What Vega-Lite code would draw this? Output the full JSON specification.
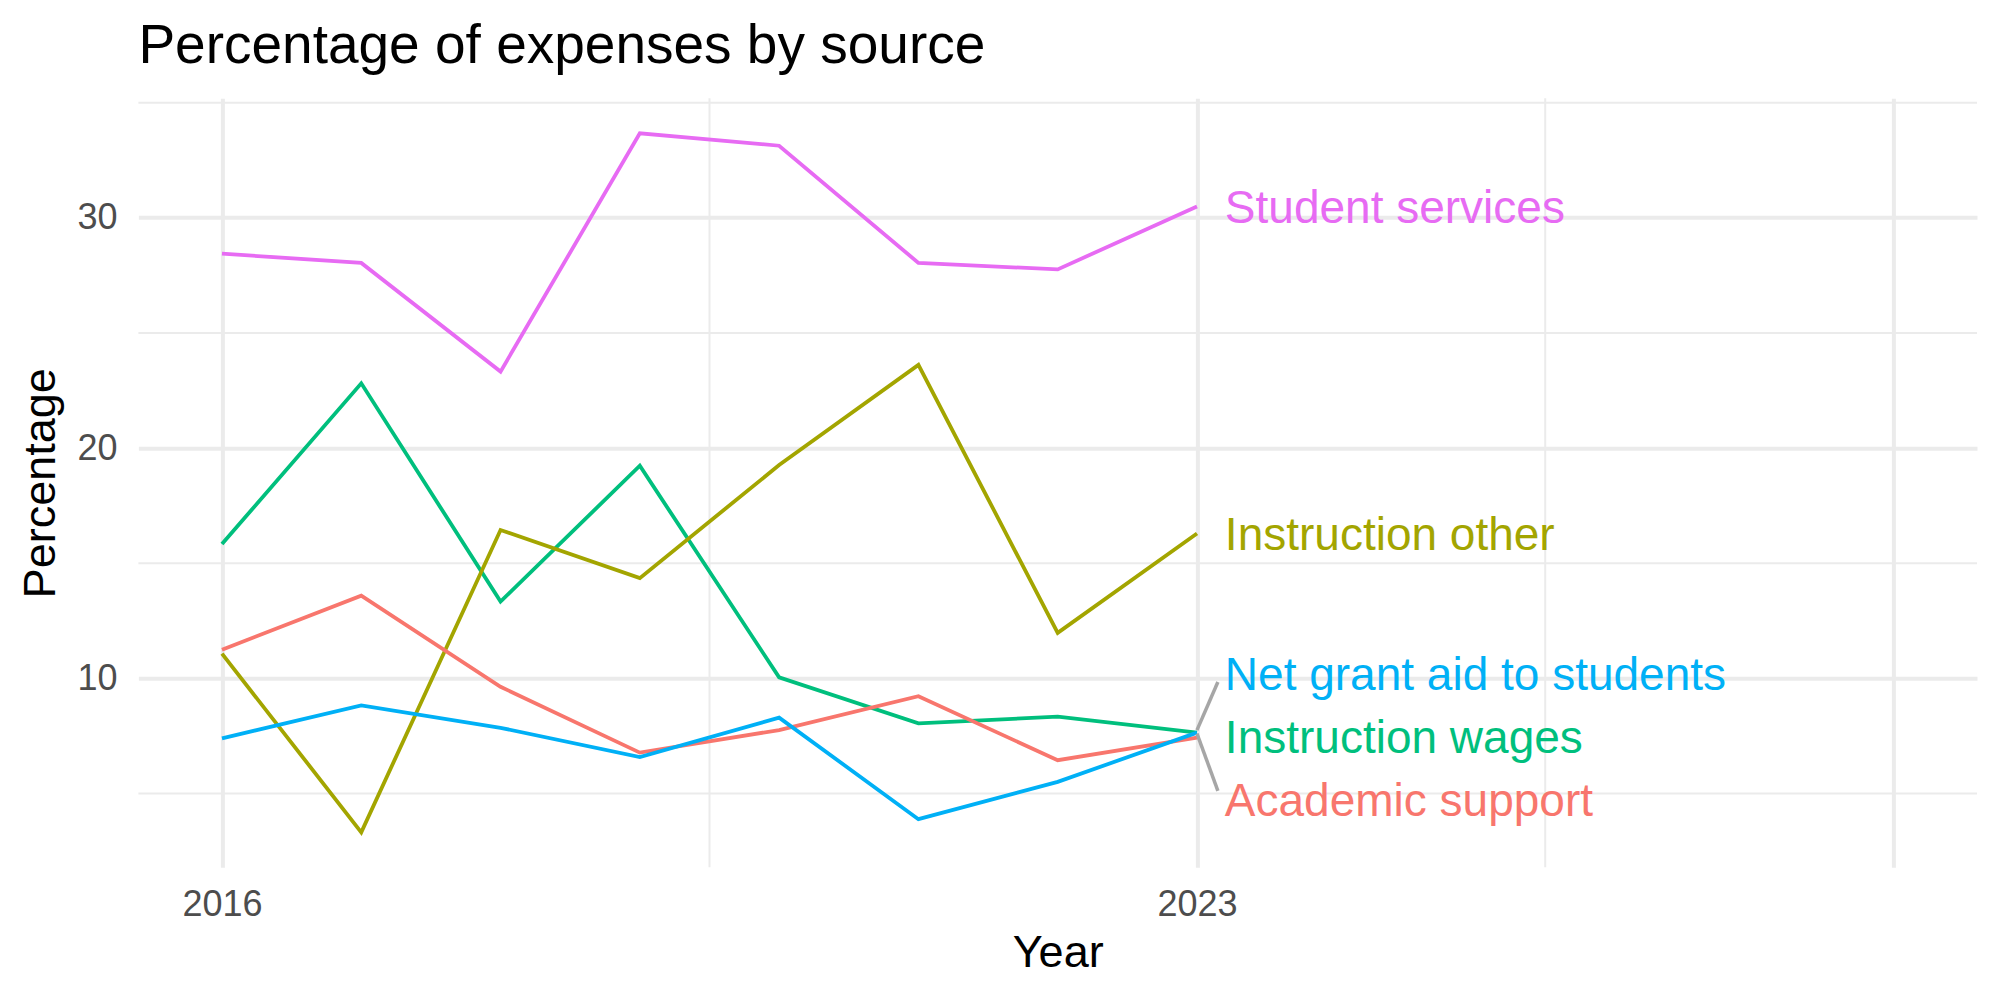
{
  "$schema": "https://vega.github.io/schema/vega-lite/v6.json",
  "autosize": {"type": "none"},
  "padding": {"left": 138.4, "top": 98.3, "right": 23, "bottom": 132.7},
  "width": 1838.6,
  "height": 769,
  "background": "white",
  "title": {
    "text": "Percentage of expenses by source",
    "anchor": "start",
    "frame": "group",
    "fontSize": 55,
    "fontWeight": "normal",
    "font": "Liberation Sans",
    "color": "black",
    "baseline": "alphabetic",
    "offset": -21
  },
  "datasets": {
    "series": [
      {"year": 2016, "source": "Student services", "pct": 28.44},
      {"year": 2017, "source": "Student services", "pct": 28.04},
      {"year": 2018, "source": "Student services", "pct": 23.32},
      {"year": 2019, "source": "Student services", "pct": 33.67},
      {"year": 2020, "source": "Student services", "pct": 33.13},
      {"year": 2021, "source": "Student services", "pct": 28.04},
      {"year": 2022, "source": "Student services", "pct": 27.76},
      {"year": 2023, "source": "Student services", "pct": 30.49},
      {"year": 2016, "source": "Instruction wages", "pct": 15.83},
      {"year": 2017, "source": "Instruction wages", "pct": 22.81},
      {"year": 2018, "source": "Instruction wages", "pct": 13.33},
      {"year": 2019, "source": "Instruction wages", "pct": 19.23},
      {"year": 2020, "source": "Instruction wages", "pct": 10.04},
      {"year": 2021, "source": "Instruction wages", "pct": 8.04},
      {"year": 2022, "source": "Instruction wages", "pct": 8.33},
      {"year": 2023, "source": "Instruction wages", "pct": 7.64},
      {"year": 2016, "source": "Instruction other", "pct": 11.07},
      {"year": 2017, "source": "Instruction other", "pct": 3.31},
      {"year": 2018, "source": "Instruction other", "pct": 16.44},
      {"year": 2019, "source": "Instruction other", "pct": 14.35},
      {"year": 2020, "source": "Instruction other", "pct": 19.26},
      {"year": 2021, "source": "Instruction other", "pct": 23.61},
      {"year": 2022, "source": "Instruction other", "pct": 11.97},
      {"year": 2023, "source": "Instruction other", "pct": 16.29},
      {"year": 2016, "source": "Academic support", "pct": 11.24},
      {"year": 2017, "source": "Academic support", "pct": 13.59},
      {"year": 2018, "source": "Academic support", "pct": 9.63},
      {"year": 2019, "source": "Academic support", "pct": 6.77},
      {"year": 2020, "source": "Academic support", "pct": 7.75},
      {"year": 2021, "source": "Academic support", "pct": 9.22},
      {"year": 2022, "source": "Academic support", "pct": 6.44},
      {"year": 2023, "source": "Academic support", "pct": 7.42},
      {"year": 2016, "source": "Net grant aid to students", "pct": 7.39},
      {"year": 2017, "source": "Net grant aid to students", "pct": 8.82},
      {"year": 2018, "source": "Net grant aid to students", "pct": 7.85},
      {"year": 2019, "source": "Net grant aid to students", "pct": 6.58},
      {"year": 2020, "source": "Net grant aid to students", "pct": 8.29},
      {"year": 2021, "source": "Net grant aid to students", "pct": 3.88},
      {"year": 2022, "source": "Net grant aid to students", "pct": 5.50},
      {"year": 2023, "source": "Net grant aid to students", "pct": 7.64}
    ],
    "labels": [
      {"source": "Student services", "year": 2023.2, "pct": 30.5},
      {"source": "Instruction other", "year": 2023.2, "pct": 16.3},
      {"source": "Net grant aid to students", "year": 2023.2, "pct": 10.23},
      {"source": "Instruction wages", "year": 2023.2, "pct": 7.5},
      {"source": "Academic support", "year": 2023.2, "pct": 4.75}
    ],
    "segments": [
      {"source": "Net grant aid to students", "year": 2023.0, "pct": 7.75, "year_end": 2023.15, "pct_end": 9.84},
      {"source": "Academic support", "year": 2023.0, "pct": 7.6, "year_end": 2023.15, "pct_end": 5.11}
    ],
    "minor_x": [{"year": 2019.5}, {"year": 2025.5}],
    "minor_y": [{"pct": 5}, {"pct": 15}, {"pct": 25}, {"pct": 35}]
  },
  "layer": [
    {
      "data": {"name": "minor_x"},
      "mark": {"type": "rule", "color": "#EBEBEB", "strokeWidth": 2},
      "encoding": {
        "x": {
          "field": "year",
          "type": "quantitative",
          "scale": {"domain": [2015.4, 2028.6], "nice": false, "zero": false},
          "axis": {
            "title": "Year",
            "values": [2016, 2023, 2028],
            "labelExpr": "datum.value == 2028 ? '' : datum.value",
            "grid": true,
            "gridColor": "#EBEBEB",
            "gridWidth": 4,
            "labelPadding": 20,
            "titleBaseline": "alphabetic",
            "titleY": 98.7
          }
        }
      }
    },
    {
      "data": {"name": "minor_y"},
      "mark": {"type": "rule", "color": "#EBEBEB", "strokeWidth": 2},
      "encoding": {
        "y": {
          "field": "pct",
          "type": "quantitative",
          "scale": {"domain": [1.79, 35.19], "nice": false, "zero": false},
          "axis": {
            "title": "Percentage",
            "values": [10, 20, 30],
            "grid": true,
            "gridColor": "#EBEBEB",
            "gridWidth": 4,
            "labelPadding": 21.4,
            "titleBaseline": "alphabetic",
            "titleX": -84.2,
            "titleY": 384.5
          }
        }
      }
    },
    {
      "data": {"name": "series"},
      "mark": {"type": "line", "strokeWidth": 3.8},
      "encoding": {
        "x": {"field": "year", "type": "quantitative"},
        "y": {"field": "pct", "type": "quantitative"},
        "color": {
          "field": "source",
          "type": "nominal",
          "scale": {
            "domain": ["Academic support", "Instruction other", "Instruction wages", "Net grant aid to students", "Student services"],
            "range": ["#F8766D", "#A3A500", "#00BF7D", "#00B0F6", "#E76BF3"]
          },
          "legend": null
        },
        "detail": {"field": "source"}
      }
    },
    {
      "data": {"name": "segments"},
      "mark": {"type": "rule", "color": "#A6A6A6", "strokeWidth": 3.5},
      "encoding": {
        "x": {"field": "year", "type": "quantitative"},
        "y": {"field": "pct", "type": "quantitative"},
        "x2": {"field": "year_end"},
        "y2": {"field": "pct_end"}
      }
    },
    {
      "data": {"name": "labels"},
      "mark": {"type": "text", "align": "left", "baseline": "middle", "fontSize": 46, "font": "Liberation Sans", "dy": 3},
      "encoding": {
        "x": {"field": "year", "type": "quantitative"},
        "y": {"field": "pct", "type": "quantitative"},
        "text": {"field": "source"},
        "color": {"field": "source", "type": "nominal", "legend": null}
      }
    }
  ],
  "config": {
    "view": {"stroke": null},
    "font": "Liberation Sans",
    "axis": {
      "domain": false,
      "ticks": false,
      "tickSize": 0,
      "labelFont": "Liberation Sans",
      "labelFontSize": 36,
      "labelColor": "#4D4D4D",
      "titleFont": "Liberation Sans",
      "titleFontSize": 45,
      "titleFontWeight": "normal",
      "titleColor": "black"
    }
  }
}
